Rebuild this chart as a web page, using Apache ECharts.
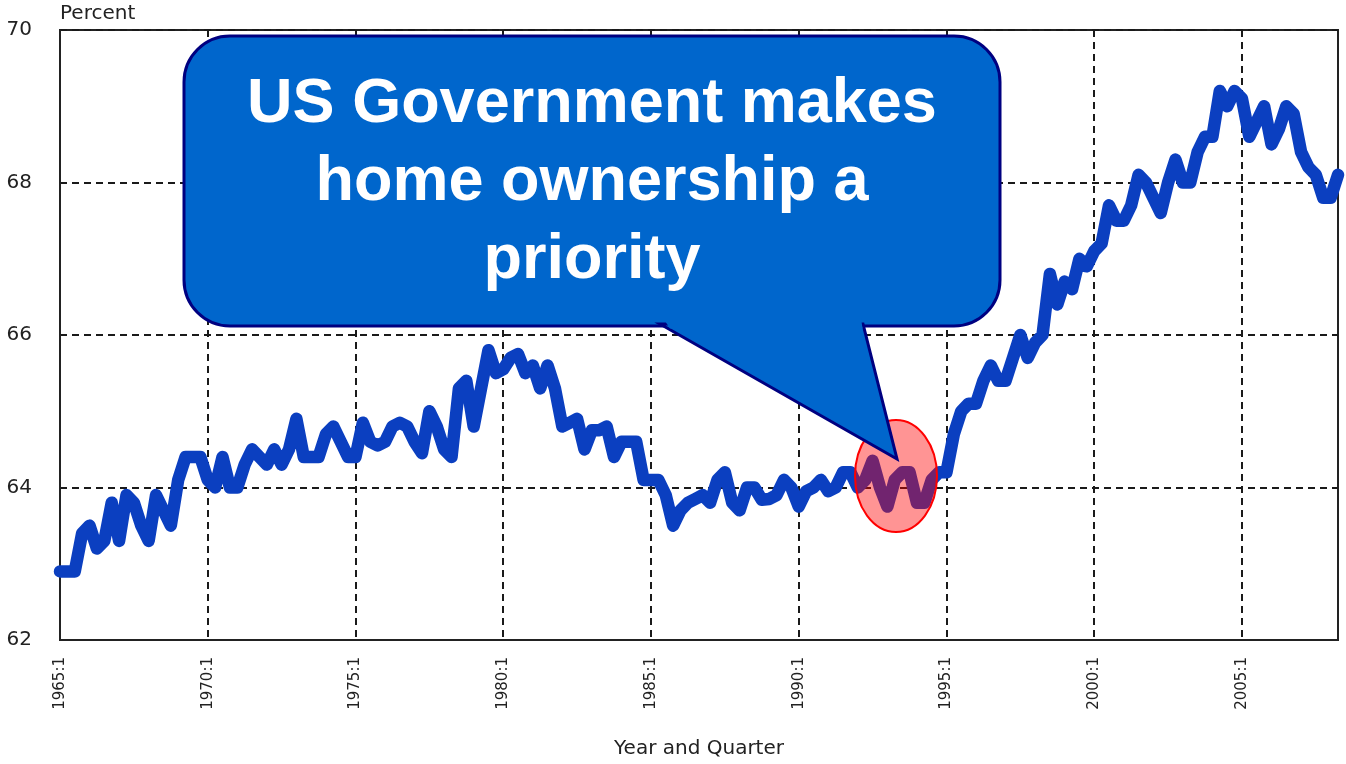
<!DOCTYPE html>
<html>
<head>
<meta charset="utf-8">
<script src="https://cdn.jsdelivr.net/npm/echarts@6/dist/echarts.min.js"></script>
<style>
html,body{margin:0;padding:0;background:#fff;}
#chart{width:1346px;height:764px;}
</style>
</head>
<body>
<div id="chart"></div>
<script>
// Homeownership rate, quarterly, 1965:1 - 2008:2 (percent)
const startYear = 1965;
const rate1965_1974 = [
  62.9, 62.9, 62.9, 63.4,
  63.5, 63.2, 63.3, 63.8,
  63.3, 63.9, 63.8, 63.5,
  63.3, 63.9, 63.7, 63.5,
  64.1, 64.4, 64.4, 64.4,
  64.1, 64.0, 64.4, 64.0,
  64.0, 64.3, 64.5, 64.4,
  64.3, 64.5, 64.3, 64.5,
  64.9, 64.4, 64.4, 64.4,
  64.7, 64.8, 64.6, 64.4
];
const rate1975_1984 = [
  64.4, 64.85, 64.6, 64.55,
  64.6, 64.8, 64.85, 64.8,
  64.6, 64.45, 65.0, 64.8,
  64.5, 64.4, 65.3, 65.4,
  64.8, 65.3, 65.8, 65.5,
  65.55, 65.7, 65.75, 65.5,
  65.6, 65.3, 65.6, 65.3,
  64.8, 64.85, 64.9, 64.5,
  64.75, 64.75, 64.8, 64.4,
  64.6, 64.6, 64.6, 64.1
];
const rate1985_1994 = [
  64.1, 64.1, 63.9, 63.5,
  63.7, 63.8, 63.85, 63.9,
  63.8, 64.1, 64.2, 63.8,
  63.7, 64.0, 64.0, 63.84,
  63.85, 63.9, 64.1, 64.0,
  63.75, 63.95, 64.0, 64.1,
  63.95, 64.0, 64.2, 64.2,
  64.0, 64.1, 64.35, 64.0,
  63.75, 64.1, 64.2, 64.2,
  63.8, 63.8, 64.1, 64.2
];
const rate1995_2008 = [
  64.2, 64.7, 65.0, 65.1,
  65.1, 65.4, 65.6, 65.4,
  65.4, 65.7, 66.0, 65.7,
  65.9, 66.0, 66.8, 66.4,
  66.7, 66.6, 67.0, 66.9,
  67.1, 67.2, 67.7, 67.5,
  67.5, 67.7, 68.1, 68.0,
  67.8, 67.6, 68.0, 68.3,
  68.0, 68.0, 68.4, 68.6,
  68.6, 69.2, 69.0, 69.2,
  69.1, 68.6, 68.8, 69.0,
  68.5, 68.7, 69.0, 68.9,
  68.4, 68.2, 68.1, 67.8,
  67.8, 68.1
];
const yTicks = [62, 64, 66, 68, 70];
const annotationLines = ['US Government makes', 'home ownership a', 'priority'];

const values = rate1965_1974.concat(rate1975_1984, rate1985_1994, rate1995_2008);
const categories = values.map((v, i) => (startYear + Math.floor(i / 4)) + ':' + (i % 4 + 1));

const chart = echarts.init(document.getElementById('chart'), null, {renderer: 'canvas'});
const FONT = 'DejaVu Sans';
const gridDash = {color: '#1a1a1a', width: 2, type: [7, 5]};

const textEls = annotationLines.map((t, k) => ({
  type: 'text', z: 14,
  style: {
    text: t, x: 592, y: 105 + k * 78,
    fill: '#ffffff', font: 'bold 63px "Liberation Sans", Arial, sans-serif',
    textAlign: 'center', textVerticalAlign: 'middle'
  }
}));

chart.setOption({
  animation: false,
  backgroundColor: '#ffffff',
  grid: {left: 60, right: 8, top: 30, bottom: 124, show: true, borderColor: '#222', borderWidth: 2, backgroundColor: 'transparent'},
  xAxis: {
    type: 'category', data: categories, boundaryGap: false,
    name: 'Year and Quarter', nameLocation: 'middle', nameGap: 99,
    nameTextStyle: {fontFamily: FONT, fontSize: 20, color: '#222'},
    axisLine: {show: true, lineStyle: {color: '#222', width: 2}},
    axisTick: {show: false},
    axisLabel: {interval: 19, rotate: 90, margin: 17, fontFamily: FONT, fontSize: 15, color: '#222'},
    splitLine: {show: true, interval: 19, lineStyle: gridDash}
  },
  yAxis: {
    type: 'value', min: yTicks[0], max: yTicks[yTicks.length - 1], interval: 2,
    name: 'Percent', nameLocation: 'end', nameGap: 6,
    nameTextStyle: {fontFamily: FONT, fontSize: 20, color: '#222', align: 'left', verticalAlign: 'bottom'},
    axisLine: {show: true, lineStyle: {color: '#222', width: 2}},
    axisTick: {show: false},
    axisLabel: {margin: 28, fontFamily: FONT, fontSize: 20, color: '#222'},
    splitLine: {show: true, lineStyle: gridDash}
  },
  series: [{
    type: 'line', data: values, showSymbol: false, symbol: 'none', clip: false, z: 5,
    lineStyle: {color: '#0b3fc0', width: 12.5, cap: 'round', join: 'round'}
  }],
  graphic: [
    {type: 'ellipse', z: 10, shape: {cx: 896, cy: 476, rx: 41, ry: 56},
     style: {fill: 'rgba(255,0,0,0.42)', stroke: '#ff0000', lineWidth: 2}},
    {type: 'rect', z: 11, shape: {x: 184, y: 36, width: 816, height: 290, r: 46},
     style: {fill: '#0066cc', stroke: '#000080', lineWidth: 3}},
    {type: 'polygon', z: 12, shape: {points: [[660, 324], [897, 459], [863, 324]]},
     style: {fill: '#0066cc', stroke: '#000080', lineWidth: 3}},
    {type: 'polygon', z: 13, shape: {points: [[663, 318], [861, 318], [862.5, 328.5], [670, 328.5]]},
     style: {fill: '#0066cc', lineWidth: 0}}
  ].concat(textEls)
});
</script>
</body>
</html>
